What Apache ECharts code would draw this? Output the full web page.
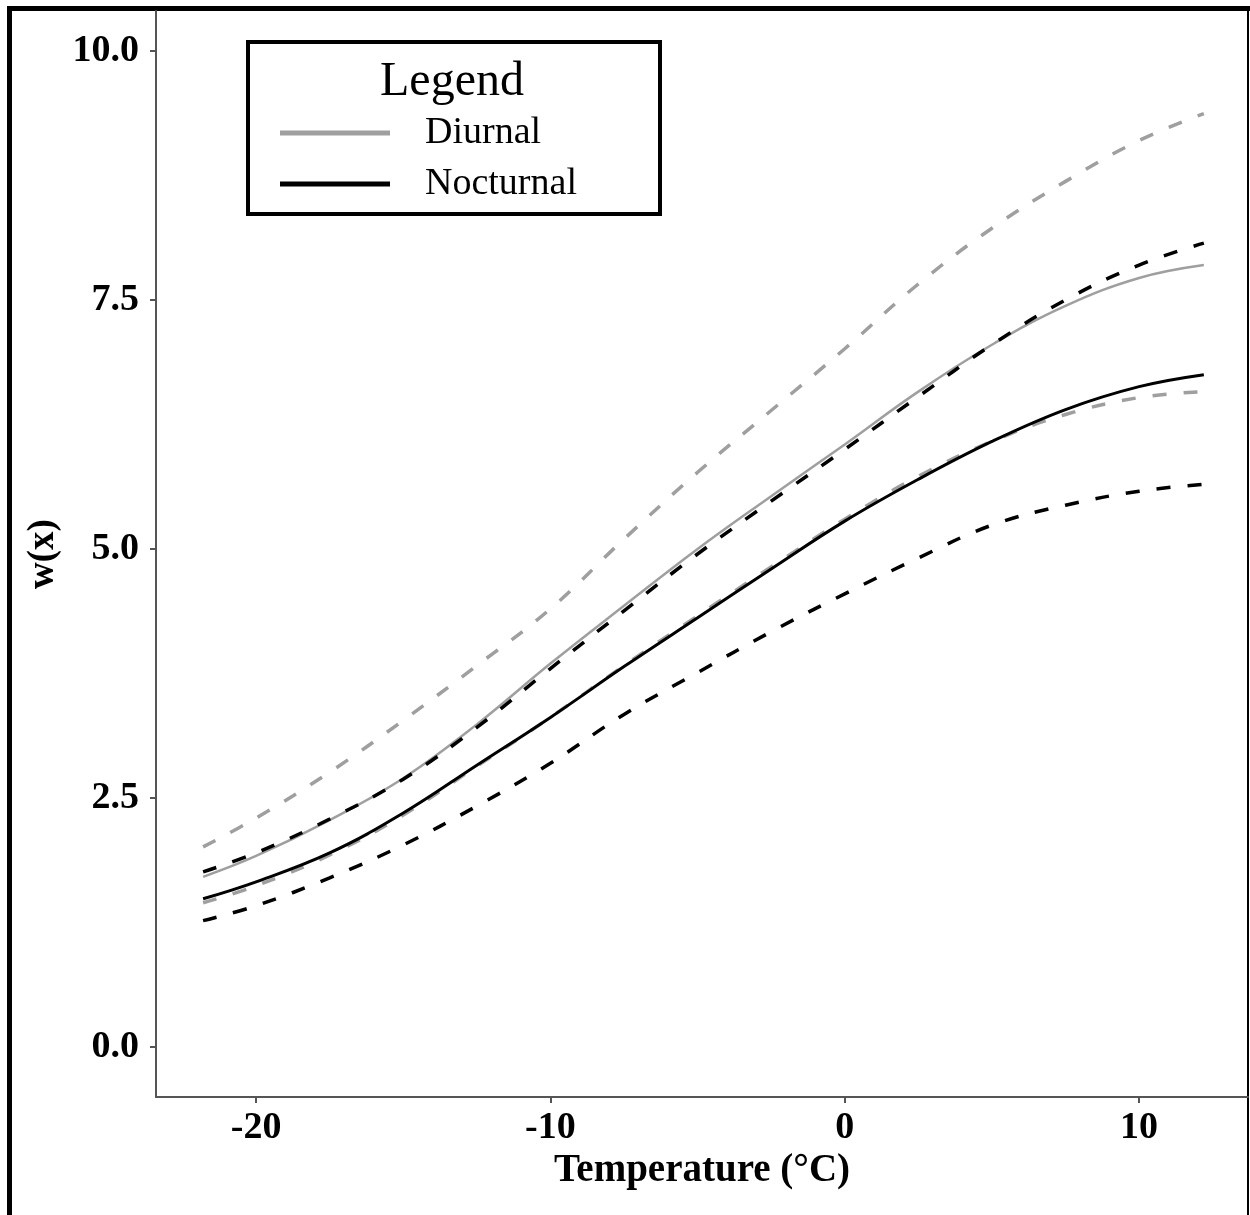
<!DOCTYPE html>
<html>
<head>
<meta charset="utf-8">
<title>w(x) vs Temperature</title>
<script src="https://cdn.jsdelivr.net/npm/echarts@6/dist/echarts.min.js"></script>
<style>
  html, body { margin: 0; padding: 0; background: #fff; }
  #chart { width: 1250px; height: 1215px; }
</style>
</head>
<body>
<div id="chart"></div>
<script>
// temperature (x) grid the curves were read at
var temps = [-21.8, -20, -17.5, -15, -12.5, -10, -7.5, -5, -2.5, 0, 2.5, 5, 7.5, 10, 12.2];

// diurnal fit + bounds
var diurnalFit   = [1.71, 1.92, 2.28, 2.70, 3.24, 3.85, 4.43, 5.00, 5.53, 6.05, 6.58, 7.05, 7.44, 7.72, 7.85];
var diurnalUpper = [2.01, 2.30, 2.76, 3.28, 3.83, 4.40, 5.10, 5.77, 6.39, 7.01, 7.66, 8.22, 8.69, 9.10, 9.37];
var diurnalLower = [1.45, 1.62, 1.93, 2.33, 2.82, 3.31, 3.83, 4.33, 4.82, 5.30, 5.73, 6.08, 6.35, 6.52, 6.58];

// nocturnal fit + bounds
var nocturnalFit   = [1.49, 1.66, 1.95, 2.35, 2.83, 3.31, 3.82, 4.31, 4.80, 5.28, 5.70, 6.08, 6.40, 6.63, 6.75];
var nocturnalUpper = [1.76, 1.95, 2.29, 2.69, 3.21, 3.80, 4.38, 4.95, 5.48, 6.00, 6.53, 7.05, 7.50, 7.85, 8.07];
var nocturnalLower = [1.27, 1.42, 1.70, 2.03, 2.42, 2.85, 3.34, 3.76, 4.17, 4.55, 4.91, 5.24, 5.44, 5.58, 5.65];

var xTicks = [-20, -10, 0, 10];
var yTicks = [0, 2.5, 5, 7.5, 10];

var gray = '#9f9f9f';
var black = '#000000';
var serif = 'Liberation Serif';

function pairs(arr) {
  return temps.map(function (t, i) { return [t, arr[i]]; });
}

function mkLine(name, arr, color, dashed, width) {
  return {
    name: name,
    type: 'line',
    data: pairs(arr),
    smooth: 0.4,
    symbol: 'none',
    silent: true,
    itemStyle: { color: color },
    lineStyle: {
      color: color,
      width: width,
      type: dashed ? [14, 17] : 'solid'
    }
  };
}

var chart = echarts.init(document.getElementById('chart'));

var option = {
  backgroundColor: '#fff',
  animation: false,
  grid: { left: 156, top: 11, right: 2, bottom: 118 },
  xAxis: {
    type: 'value',
    min: -23.4,
    max: 13.7,
    name: 'Temperature (°C)',
    nameLocation: 'middle',
    nameGap: 50,
    nameTextStyle: { fontFamily: serif, fontWeight: 'bold', fontSize: 39, color: '#000' },
    axisLine: { show: true, onZero: false, lineStyle: { color: '#555', width: 2 } },
    axisTick: { show: true, length: 6, customValues: xTicks, lineStyle: { color: '#555', width: 2 } },
    axisLabel: {
      customValues: xTicks,
      margin: 12,
      fontFamily: serif, fontWeight: 'bold', fontSize: 38, color: '#000'
    },
    splitLine: { show: false }
  },
  yAxis: {
    type: 'value',
    min: -0.5,
    max: 10.4,
    name: 'w(x)',
    nameLocation: 'middle',
    nameGap: 86,
    nameTextStyle: { fontFamily: serif, fontWeight: 'bold', fontSize: 37, color: '#000' },
    axisLine: { show: true, onZero: false, lineStyle: { color: '#555', width: 2 } },
    axisTick: { show: true, length: 6, customValues: yTicks, lineStyle: { color: '#555', width: 2 } },
    axisLabel: {
      customValues: yTicks,
      margin: 17,
      formatter: function (v) { return v.toFixed(1); },
      fontFamily: serif, fontWeight: 'bold', fontSize: 38, color: '#000'
    },
    splitLine: { show: false }
  },
  legend: {
    data: ['Diurnal', 'Nocturnal'],
    orient: 'vertical',
    left: 280,
    top: 114,
    padding: 0,
    icon: 'rect',
    itemWidth: 110,
    itemHeight: 5,
    itemGap: 13,
    selectedMode: false,
    textStyle: { fontFamily: serif, fontSize: 38, color: '#000', padding: [0, 0, 0, 30] }
  },
  graphic: [
    // legend frame + title
    { type: 'rect', shape: { x: 248, y: 42, width: 412, height: 172 },
      style: { fill: '#fff', stroke: '#000', lineWidth: 4 }, z: -1 },
    { type: 'text', x: 452, y: 82,
      style: { text: 'Legend', font: '48px "Liberation Serif"', fill: '#000',
               textAlign: 'center', textVerticalAlign: 'middle' } },
    // outer figure frame
    { type: 'line', shape: { x1: 9.5, y1: 6, x2: 9.5, y2: 1215 }, style: { stroke: '#000', lineWidth: 5 } },
    { type: 'line', shape: { x1: 7, y1: 8.5, x2: 1250, y2: 8.5 }, style: { stroke: '#000', lineWidth: 5 } },
    { type: 'line', shape: { x1: 1248, y1: 8, x2: 1248, y2: 1215 }, style: { stroke: '#000', lineWidth: 2 } }
  ],
  series: [
    mkLine('Diurnal upper', diurnalUpper, gray, true, 3.5),
    mkLine('Diurnal lower', diurnalLower, gray, true, 3.5),
    mkLine('Diurnal', diurnalFit, gray, false, 2.5),
    mkLine('Nocturnal upper', nocturnalUpper, black, true, 3.5),
    mkLine('Nocturnal lower', nocturnalLower, black, true, 3.5),
    mkLine('Nocturnal', nocturnalFit, black, false, 3)
  ]
};

chart.setOption(option);
</script>
</body>
</html>
